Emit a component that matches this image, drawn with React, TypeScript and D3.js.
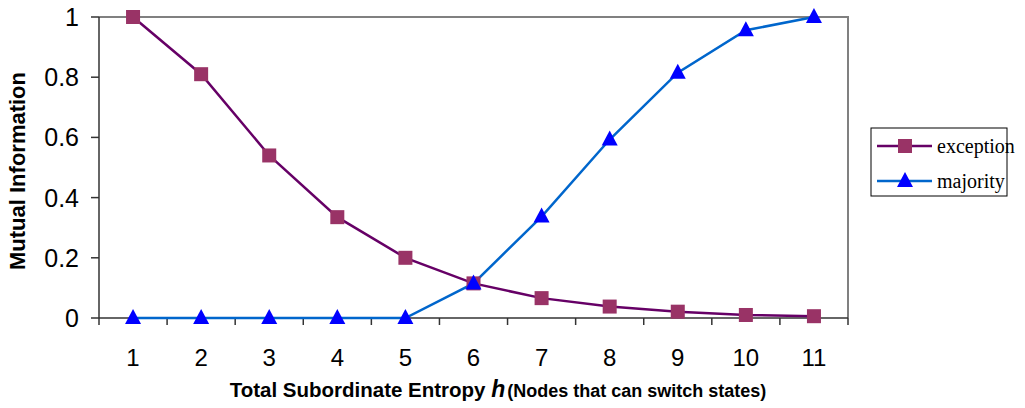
import React from 'react';
import * as d3 from 'd3';

// entropy values on the x axis
const categories = ['1', '2', '3', '4', '5', '6', '7', '8', '9', '10', '11'];
const exception = [1, 0.81, 0.54, 0.335, 0.2, 0.115, 0.066, 0.038, 0.021, 0.01, 0.006];
const majority = [0, 0, 0, 0, 0, 0.115, 0.337, 0.593, 0.815, 0.956, 1];
const yTicks = [0, 0.2, 0.4, 0.6, 0.8, 1];

const W = 1025;
const H = 408;
const left = 99;
const right = 848;
const top = 17;
const bottom = 318;

const App = () => {
  const x = d3.scaleBand().domain(categories).range([left, right]).padding(0);
  const y = d3.scaleLinear().domain([0, 1]).range([bottom, top]);
  const cx = (i: number) => (x(categories[i]) as number) + x.bandwidth() / 2;

  const line = d3
    .line<number>()
    .x((_, i) => cx(i))
    .y((d) => y(d));

  const square = (px: number, py: number, key: any) => (
    <rect key={key} x={px - 7} y={py - 7} width={14} height={14} fill="#993366" />
  );
  const tri = (px: number, py: number, key: any) => (
    <path key={key} d={`M${px},${py - 9}L${px + 8},${py + 6}L${px - 8},${py + 6}Z`} fill="#0000FF" />
  );

  const bounds = [...categories.map((c) => x(c) as number), right];

  return (
    <svg
      width={W}
      height={H}
      style={{ position: 'absolute', left: 0, top: 0, background: '#fff' }}
      fontFamily="Arial, 'Liberation Sans', sans-serif"
    >
      {/* frame: top and right grey, axes dark */}
      <path d={`M${left},${top}H${right}V${bottom}`} fill="none" stroke="#808080" strokeWidth={2} />
      <line x1={left} x2={left} y1={top} y2={bottom} stroke="#333" strokeWidth={1.5} />
      <line x1={left} x2={right} y1={bottom} y2={bottom} stroke="#333" strokeWidth={1.5} />

      {/* y axis */}
      {yTicks.map((t) => (
        <g key={t}>
          <line x1={left - 8} x2={left} y1={y(t)} y2={y(t)} stroke="#333" strokeWidth={1.5} />
          <text x={79} y={y(t)} dy="0.36em" textAnchor="end" fontSize={25}>
            {t}
          </text>
        </g>
      ))}

      {/* x axis */}
      {bounds.map((b, i) => (
        <line key={i} x1={b} x2={b} y1={bottom} y2={bottom + 7} stroke="#333" strokeWidth={1.5} />
      ))}
      {categories.map((c, i) => (
        <text key={c} x={cx(i)} y={357} dy="0.36em" textAnchor="middle" fontSize={24}>
          {c}
        </text>
      ))}

      <text x={498} y={397} textAnchor="middle" fontWeight="bold" fontSize={20.5}>
        Total Subordinate Entropy{' '}
        <tspan fontStyle="italic" fontSize={23}>h</tspan>
        <tspan fontSize={18} dx={2}>(Nodes that can switch states)</tspan>
      </text>
      <text
        transform={`translate(25,171) rotate(-90)`}
        textAnchor="middle"
        fontWeight="bold"
        fontSize={22}
      >
        Mutual Information
      </text>

      {/* series */}
      <path d={line(exception) as string} fill="none" stroke="#660066" strokeWidth={2.5} />
      <path d={line(majority) as string} fill="none" stroke="#0066CC" strokeWidth={2.5} />
      {exception.map((v, i) => square(cx(i), y(v), 'e' + i))}
      {majority.map((v, i) => tri(cx(i), y(v), 'm' + i))}

      {/* legend */}
      <rect x={871} y={128} width={136} height={68} fill="#fff" stroke="#000" strokeWidth={1} />
      <line x1={877} x2={932} y1={146} y2={146} stroke="#660066" strokeWidth={2.5} />
      {square(905, 146, 'ls')}
      <text x={937} y={146} dy="0.33em" fontFamily="'Liberation Serif', 'Times New Roman', serif" fontSize={20}>
        exception
      </text>
      <line x1={877} x2={932} y1={181} y2={181} stroke="#0066CC" strokeWidth={2.5} />
      {tri(905, 181, 'lt')}
      <text x={937} y={181} dy="0.33em" fontFamily="'Liberation Serif', 'Times New Roman', serif" fontSize={20}>
        majority
      </text>
    </svg>
  );
};

export default App;
